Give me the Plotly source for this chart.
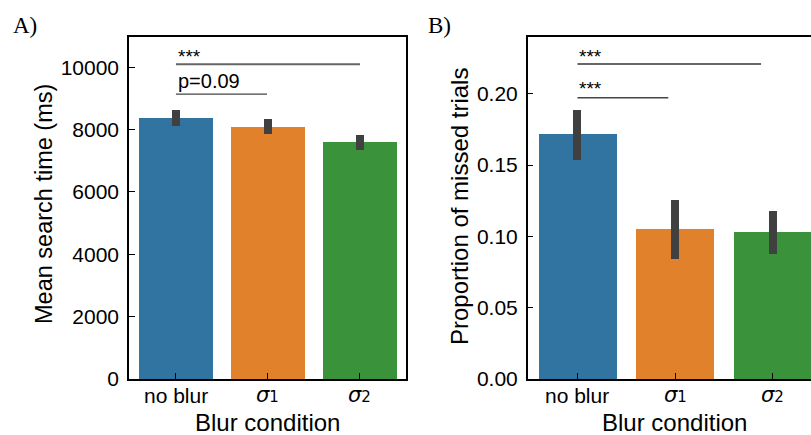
import plotly.graph_objects as go

# ---- data ----
categories = ["no blur", "σ1", "σ2"]
cat_pos = [0, 1, 2]
colors = ["#3274a1", "#e1812c", "#3a923a"]

search_mean = [8380, 8090, 7610]
search_lo = [8125, 7860, 7360]
search_hi = [8620, 8340, 7840]

missed_mean = [0.172, 0.1053, 0.1031]
missed_lo = [0.1535, 0.0842, 0.0877]
missed_hi = [0.1886, 0.1256, 0.1181]

ticks_a = [0, 2000, 4000, 6000, 8000, 10000]
ticks_b = [0.0, 0.05, 0.10, 0.15, 0.20]

W, H = 811, 435
FONT = "Liberation Sans, Arial, Helvetica, sans-serif"
MATH = "DejaVu Sans, sans-serif"
SERIF = "Liberation Serif, Times New Roman, serif"


def px(x):
    return x / W


def py(y):
    return 1 - y / H


def label_html(c):
    if c.startswith("σ"):
        return "<i>σ</i><span style='font-size:15px'>" + c[1:] + "</span>"
    return c


fig = go.Figure()

fig.add_trace(go.Bar(
    x=cat_pos, y=search_mean, width=0.8, marker=dict(color=colors, line=dict(width=0)),
    error_y=dict(type="data", symmetric=False,
                 array=[h - m for h, m in zip(search_hi, search_mean)],
                 arrayminus=[m - l for m, l in zip(search_mean, search_lo)],
                 thickness=8, width=0, color="#404040"),
    xaxis="x", yaxis="y", showlegend=False, hoverinfo="skip"))

fig.add_trace(go.Bar(
    x=cat_pos, y=missed_mean, width=0.8, marker=dict(color=colors, line=dict(width=0)),
    error_y=dict(type="data", symmetric=False,
                 array=[h - m for h, m in zip(missed_hi, missed_mean)],
                 arrayminus=[m - l for m, l in zip(missed_mean, missed_lo)],
                 thickness=8, width=0, color="#404040"),
    xaxis="x2", yaxis="y2", showlegend=False, hoverinfo="skip"))

y_dom = [py(379), py(37)]
axis_common = dict(showline=True, linecolor="black", linewidth=1.5, ticks="inside",
                   ticklen=6, tickwidth=1.3, tickcolor="black", showgrid=False,
                   zeroline=False, automargin=False,
                   tickfont=dict(family=FONT, size=21, color="black"))

fig.update_layout(
    width=W, height=H, margin=dict(l=0, r=0, t=0, b=0),
    paper_bgcolor="white", plot_bgcolor="white", bargap=0,
    xaxis=dict(domain=[px(129), px(406)], range=[-0.51, 2.5], tickvals=cat_pos,
               showticklabels=False, mirror=True, anchor="y", **axis_common),
    yaxis=dict(domain=y_dom, range=[0, 10970], tickvals=ticks_a,
               ticktext=[str(t) for t in ticks_a], mirror=True, anchor="x",
               ticklabelstandoff=4, **axis_common),
    xaxis2=dict(domain=[px(527.7), 1.0], range=[-0.51, 2.392], tickvals=cat_pos,
                showticklabels=False, mirror=True, anchor="y2", **axis_common),
    yaxis2=dict(domain=y_dom, range=[0, 0.2398], tickvals=ticks_b,
                ticktext=[f"{t:.2f}" for t in ticks_b], mirror=False, anchor="x2",
                ticklabelstandoff=4, **axis_common),
)

# significance lines
fig.add_shape(type="line", xref="x", yref="y", x0=0, x1=2, y0=10096, y1=10096,
              line=dict(color="#666666", width=2))
fig.add_shape(type="line", xref="x", yref="y", x0=0, x1=0.99, y0=9140, y1=9140,
              line=dict(color="#444444", width=1.3))
fig.add_shape(type="line", xref="x2", yref="y2", x0=0, x1=1.88, y0=0.2208, y1=0.2208,
              line=dict(color="#666666", width=2))
fig.add_shape(type="line", xref="x2", yref="y2", x0=0, x1=0.93, y0=0.1972, y1=0.1972,
              line=dict(color="#444444", width=1.3))

ann = []
ann.append(dict(x=0, y=10360, xref="x", yref="y", text="***", showarrow=False,
                xanchor="left", yanchor="middle", font=dict(family=FONT, size=19, color="black")))
ann.append(dict(x=0, y=9560, xref="x", yref="y", text="p=0.09", showarrow=False,
                xanchor="left", yanchor="middle", font=dict(family=FONT, size=20, color="black")))
ann.append(dict(x=0, y=0.2263, xref="x2", yref="y2", text="***", showarrow=False,
                xanchor="left", yanchor="middle", font=dict(family=FONT, size=19, color="black")))
ann.append(dict(x=0, y=0.2040, xref="x2", yref="y2", text="***", showarrow=False,
                xanchor="left", yanchor="middle", font=dict(family=FONT, size=19, color="black")))

# x tick labels (categories)
for xr in ["x", "x2"]:
    for pos, c in zip(cat_pos, categories):
        fam = MATH if c.startswith("σ") else FONT
        ann.append(dict(x=pos, y=py(395), xref=xr, yref="paper", text=label_html(c),
                        showarrow=False, xanchor="center", yanchor="middle",
                        font=dict(family=fam, size=21, color="black")))

# axis titles
ann.append(dict(x=px(267.5), y=py(422), xref="paper", yref="paper", text="Blur condition",
                showarrow=False, xanchor="center", yanchor="middle",
                font=dict(family=FONT, size=24, color="black")))
ann.append(dict(x=px(674), y=py(422), xref="paper", yref="paper", text="Blur condition",
                showarrow=False, xanchor="center", yanchor="middle",
                font=dict(family=FONT, size=24, color="black")))
ann.append(dict(x=px(44), y=py(204), xref="paper", yref="paper", text="Mean search time (ms)",
                showarrow=False, xanchor="center", yanchor="middle", textangle=-90,
                font=dict(family=FONT, size=23.5, color="black")))
ann.append(dict(x=px(459), y=py(207), xref="paper", yref="paper", text="Proportion of missed trials",
                showarrow=False, xanchor="center", yanchor="middle", textangle=-90,
                font=dict(family=FONT, size=24, color="black")))

# panel labels
ann.append(dict(x=px(11), y=py(25), xref="paper", yref="paper", text="A)", showarrow=False,
                xanchor="left", yanchor="middle", font=dict(family=SERIF, size=23, color="black")))
ann.append(dict(x=px(426), y=py(25), xref="paper", yref="paper", text="B)", showarrow=False,
                xanchor="left", yanchor="middle", font=dict(family=SERIF, size=23, color="black")))

fig.update_layout(annotations=ann)

fig.write_html("out.html")
